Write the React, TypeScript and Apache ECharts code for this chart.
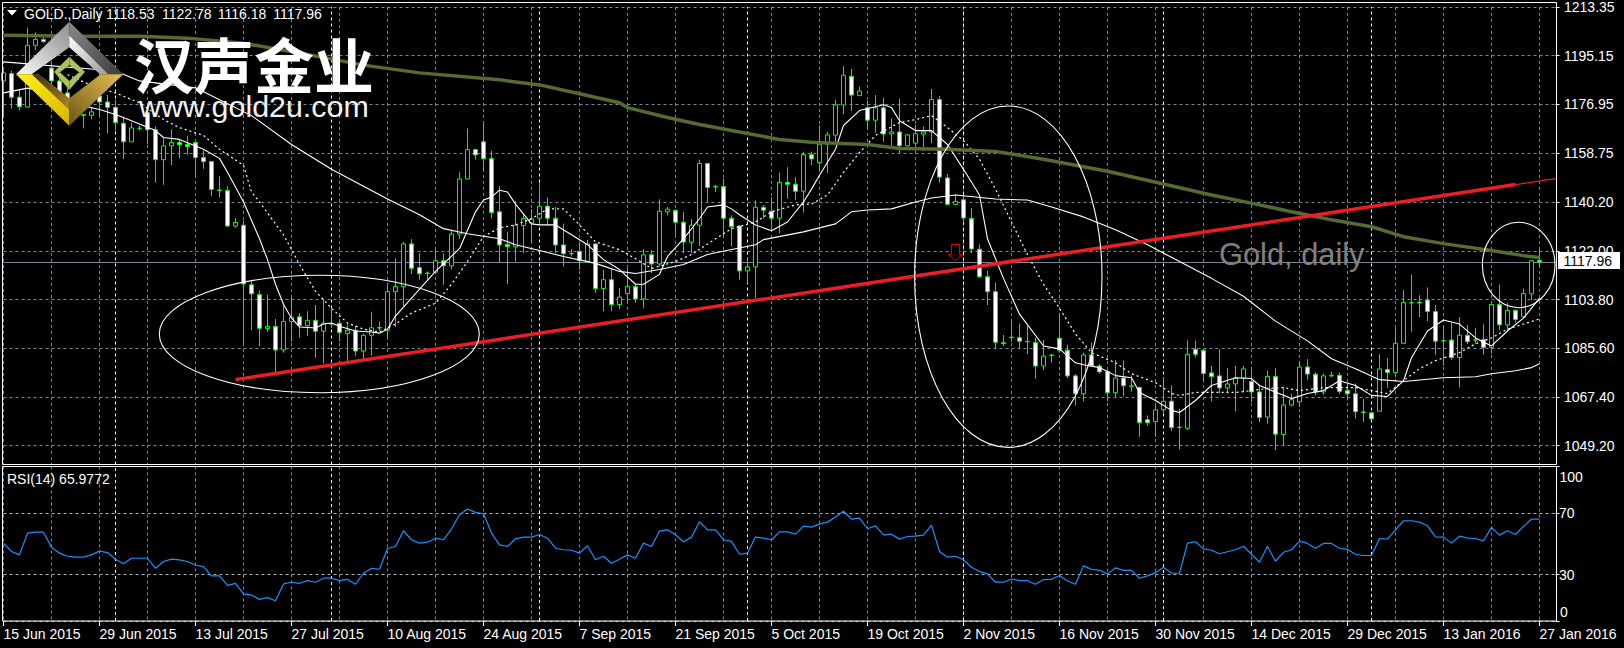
import React, { useEffect, useRef } from "react";
import * as echarts from "echarts";

const FONT = "'Liberation Sans', Arial, sans-serif";

// [open, close, high, low] per daily bar, index 0 = 15 Jun 2015
const goldDaily: number[][] = [
  [1185.7,1188.7,1189.8,1172.7],[1188.4,1179.6,1189.4,1175.3],[1179.6,1176.0,1182.4,1174.6],[1175.9,1199.0,1205.4,1175.7],[1199.0,1201.2,1203.9,1197.2],
  [1201.2,1200.4,1203.2,1199.8],[1190.5,1185.7,1193.1,1183.5],[1185.7,1181.2,1187.9,1179.4],[1181.2,1178.3,1183.1,1176.8],[1178.3,1174.6,1180.5,1172.7],
  [1172.7,1173.1,1173.2,1167.9],[1172.8,1174.1,1175.7,1171.3],[1180.0,1177.8,1182.4,1172.7],[1177.8,1175.8,1180.5,1166.1],[1175.8,1170.1,1178.6,1166.8],
  [1169.8,1162.9,1172.3,1156.5],[1162.9,1168.1,1170.1,1162.9],[1167.9,1168.0,1169.0,1167.1],[1173.8,1167.4,1174.9,1162.0],[1167.4,1156.2,1168.6,1147.6],
  [1156.2,1161.4,1164.5,1146.8],[1161.4,1162.6,1167.6,1154.2],[1162.6,1161.8,1163.9,1156.7],[1161.9,1161.1,1165.2,1158.0],[1162.6,1157.0,1162.7,1150.5],
  [1157.0,1155.5,1159.7,1152.8],[1155.5,1145.1,1155.6,1142.6],[1144.9,1144.7,1150.0,1142.1],[1144.7,1131.4,1146.3,1131.0],[1131.4,1132.7,1134.4,1130.8],
  [1131.7,1109.7,1133.4,1087.2],[1109.4,1106.0,1110.9,1092.4],[1105.7,1093.1,1107.3,1086.4],[1093.0,1093.8,1105.7,1091.8],[1093.8,1085.0,1096.6,1076.6],
  [1085.0,1095.7,1101.8,1084.0],[1095.7,1097.2,1105.0,1088.1],[1097.4,1094.2,1098.8,1089.6],[1094.1,1096.1,1099.5,1090.2],[1096.1,1092.0,1101.8,1082.2],
  [1092.0,1095.0,1103.7,1080.0],[1094.7,1094.9,1100.1,1093.3],[1095.0,1091.6,1096.1,1088.1],[1091.2,1092.4,1094.6,1080.7],[1092.4,1084.6,1094.0,1082.8],
  [1084.6,1090.5,1091.1,1081.6],[1090.5,1093.3,1099.3,1082.8],[1093.2,1093.4,1095.6,1092.1],[1092.4,1106.8,1109.2,1089.6],[1106.8,1108.7,1119.3,1093.6],
  [1108.7,1124.7,1125.5,1101.4],[1124.7,1115.6,1126.5,1113.4],[1115.8,1113.5,1121.2,1111.3],[1113.6,1113.8,1114.4,1111.3],[1114.1,1118.4,1122.4,1113.8],
  [1118.4,1116.5,1121.1,1109.4],[1116.5,1128.4,1129.5,1115.1],[1128.4,1149.0,1151.5,1126.5],[1149.0,1160.0,1167.9,1148.8],[1160.0,1158.0,1160.2,1156.2],
  [1162.9,1156.6,1169.8,1151.8],[1156.6,1136.4,1159.6,1134.2],[1136.7,1124.3,1146.3,1117.7],[1124.5,1123.7,1129.2,1109.7],[1123.6,1131.7,1140.7,1118.1],
  [1131.6,1134.2,1135.7,1121.3],[1132.5,1134.0,1137.7,1125.3],[1134.3,1138.8,1147.8,1131.7],[1138.8,1134.3,1142.1,1131.7],[1134.3,1124.3,1138.5,1121.2],
  [1124.3,1121.0,1132.3,1116.2],[1121.0,1121.1,1122.8,1120.0],[1121.9,1118.4,1124.9,1115.0],[1118.2,1124.7,1126.2,1117.8],[1124.7,1108.0,1124.8,1106.3],
  [1108.0,1111.3,1115.0,1099.5],[1111.3,1102.0,1115.6,1099.5],[1102.0,1104.8,1108.2,1100.3],[1106.1,1108.7,1115.6,1102.6],[1108.7,1104.1,1110.0,1102.6],
  [1104.1,1120.6,1122.8,1100.8],[1120.6,1117.2,1122.4,1113.8],[1117.2,1136.9,1141.4,1116.2],[1136.7,1137.7,1138.5,1135.4],[1137.2,1132.8,1137.7,1128.2],
  [1132.8,1125.4,1136.7,1121.2],[1125.3,1131.7,1134.0,1121.2],[1131.7,1154.8,1156.2,1124.0],[1154.8,1145.8,1154.8,1140.4],[1146.0,1146.2,1146.8,1144.1],
  [1146.2,1134.3,1149.0,1127.4],[1134.3,1131.2,1135.4,1123.7],[1131.4,1114.6,1131.7,1111.3],[1114.6,1116.1,1119.3,1110.0],[1116.1,1138.4,1141.0,1104.5],
  [1138.4,1137.3,1139.2,1134.2],[1136.9,1134.3,1142.2,1129.2],[1134.3,1147.7,1151.3,1128.6],[1147.7,1147.0,1153.4,1141.6],[1147.0,1144.4,1149.7,1141.1],
  [1144.4,1158.1,1159.2,1136.4],[1158.1,1156.5,1159.2,1154.2],[1155.1,1162.0,1169.1,1152.7],[1162.0,1165.5,1166.6,1151.3],[1165.4,1176.7,1178.5,1161.7],
  [1176.7,1187.8,1191.2,1173.2],[1187.4,1180.4,1190.2,1174.4],[1180.2,1181.9,1183.5,1180.0],[1175.6,1171.0,1178.3,1168.2],[1171.0,1175.6,1180.4,1166.4],
  [1175.6,1165.8,1179.4,1162.9],[1165.9,1166.6,1171.6,1161.4],[1166.6,1161.4,1179.0,1158.5],[1161.4,1165.5,1165.8,1161.2],[1162.4,1165.9,1169.2,1159.6],
  [1165.8,1166.6,1168.6,1159.6],[1166.6,1178.7,1182.7,1162.4],[1178.7,1149.7,1180.0,1147.6],[1149.4,1139.5,1150.9,1139.4],[1139.5,1140.6,1143.1,1139.4],
  [1141.2,1134.4,1142.9,1132.7],[1134.2,1122.8,1138.2,1121.2],[1122.7,1112.4,1124.5,1111.9],[1112.4,1106.8,1114.6,1101.8],[1106.8,1087.9,1110.2,1085.3],
  [1087.7,1087.4,1090.6,1086.5],[1089.6,1089.8,1095.8,1088.1],[1089.6,1088.3,1094.8,1085.3],[1088.1,1088.2,1094.0,1083.4],[1087.8,1079.0,1089.6,1074.2],
  [1079.0,1082.7,1088.7,1077.5],[1082.9,1083.1,1083.4,1080.3],[1089.4,1084.9,1098.0,1084.0],[1084.9,1075.3,1086.9,1074.5],[1075.3,1068.6,1076.0,1064.2],
  [1068.6,1083.1,1084.0,1065.8],[1083.1,1079.1,1087.8,1078.7],[1079.0,1076.8,1079.7,1076.2],[1076.9,1069.0,1077.5,1065.8],[1069.0,1074.5,1081.2,1067.1],
  [1074.5,1071.6,1081.0,1067.6],[1071.4,1071.5,1075.4,1069.4],[1071.0,1057.8,1071.3,1052.5],[1058.9,1057.8,1060.5,1056.6],[1058.2,1062.6,1064.2,1052.5],
  [1062.6,1065.8,1074.7,1061.2],[1065.8,1056.0,1071.7,1054.7],[1056.0,1056.1,1063.0,1047.8],[1055.7,1083.4,1088.6,1055.0],[1085.3,1083.4,1088.4,1082.2],
  [1084.9,1076.2,1085.0,1072.9],[1076.4,1075.1,1079.1,1065.8],[1075.3,1070.8,1085.3,1068.8],[1070.8,1072.3,1078.2,1068.8],[1072.3,1074.5,1079.1,1062.1],
  [1074.5,1077.9,1079.1,1069.2],[1073.2,1069.3,1078.5,1065.5],[1069.3,1059.7,1072.0,1058.0],[1059.9,1075.1,1077.2,1057.4],[1075.1,1053.5,1078.2,1047.5],
  [1053.4,1064.4,1071.3,1049.0],[1064.4,1066.4,1068.6,1063.9],[1065.6,1078.6,1080.3,1063.6],[1078.6,1076.0,1081.6,1073.9],[1075.9,1069.3,1076.6,1068.0],
  [1069.3,1075.3,1076.2,1068.3],[1075.3,1075.5,1076.9,1074.8],[1075.5,1069.5,1076.6,1068.6],[1069.8,1068.6,1072.5,1066.1],[1068.6,1061.9,1072.5,1059.3],
  [1061.8,1061.6,1066.7,1058.0],[1061.5,1059.2,1061.6,1058.9],[1062.1,1077.9,1083.4,1062.1],[1077.7,1076.6,1082.0,1070.8],[1076.6,1087.5,1093.3,1074.8],
  [1087.5,1102.8,1107.4,1087.2],[1102.6,1102.7,1113.2,1091.8],[1102.9,1102.6,1105.5,1097.3],[1103.7,1099.4,1108.4,1095.8],[1099.4,1088.3,1101.8,1083.2],
  [1088.4,1088.5,1093.6,1079.1],[1088.7,1082.2,1095.2,1081.2],[1082.2,1090.5,1097.3,1071.0],[1090.5,1088.1,1094.3,1087.2],[1088.7,1088.8,1093.3,1087.4],
  [1088.9,1085.9,1094.6,1083.2],[1085.9,1102.0,1102.2,1083.7],[1102.0,1094.4,1109.4,1092.4],[1094.4,1099.8,1102.6,1092.5],[1099.8,1096.4,1100.3,1095.2],
  [1097.4,1106.1,1108.0,1097.0],[1106.0,1118.4,1118.7,1103.7],[1118.53,1117.96,1122.78,1116.18],
];

const fastMa: number[][] = [
  [0,1181.2],[3,1183.0],[6,1181.0],[9,1177.0],[12,1175.0],[14,1173.1],[16,1170.8],[19,1167.1],[20,1164.5],[22,1163.8],[25,1160.1],[27,1156.7],[28,1151.5],[29,1146.0],[30,1140.4],
  [32,1126.6],[33,1118.8],[34,1109.6],[35,1102.1],[36,1096.9],[37,1093.6],[39,1093.2],[40,1094.7],[41,1095.1],[42,1093.9],[44,1092.1],[46,1091.7],[47,1091.3],[48,1092.8],[49,1097.7],
  [51,1104.4],[54,1114.4],[57,1122.9],[59,1136.7],[60,1141.1],[61,1142.2],[62,1144.8],[63,1144.1],[64,1139.6],[66,1132.2],[67,1131.8],[69,1131.8],[71,1128.1],[73,1124.4],[75,1118.8],
  [77,1115.1],[79,1109.6],[80,1109.6],[82,1113.3],[83,1120.0],[85,1126.6],[87,1134.1],[88,1138.5],[90,1139.3],[91,1137.8],[92,1135.6],[94,1131.8],[96,1129.6],[98,1132.9],[100,1140.4],
  [101,1145.2],[102,1150.4],[104,1160.1],[105,1169.0],[107,1174.6],[110,1176.8],[111,1175.7],[112,1170.8],[114,1167.1],[116,1167.1],[118,1161.9],[120,1152.6],[122,1143.0],[123,1126.6],
  [125,1111.8],[127,1098.4],[130,1086.5],[132,1085.4],[134,1080.2],[135,1079.5],[137,1078.4],[139,1075.4],[141,1074.6],[142,1069.1],[144,1066.1],[146,1062.4],[147,1061.6],[149,1066.1],
  [151,1071.7],[154,1074.6],[156,1074.3],[157,1071.7],[161,1066.8],[163,1068.7],[165,1069.8],[167,1073.5],[169,1071.7],[171,1068.0],[173,1067.6],[175,1073.5],[176,1082.1],[178,1092.1],
  [180,1096.2],[182,1094.7],[184,1089.5],[186,1086.5],[188,1092.1],[190,1096.9],[192,1104.4],
];

const slowMa: number[][] = [
  [8,1188.0],[11,1184.0],[14,1181.2],[17,1177.5],[20,1171.2],[22,1168.2],[25,1165.3],[27,1160.1],[30,1154.1],[31,1144.1],[32,1140.4],[35,1128.1],[37,1117.0],[39,1107.0],[41,1100.6],
  [43,1095.1],[45,1092.8],[47,1091.7],[49,1094.7],[51,1098.8],[54,1102.5],[56,1109.6],[58,1118.1],[60,1127.4],[62,1130.7],[64,1131.8],[66,1134.1],[68,1137.8],[70,1137.8],[72,1131.8],
  [74,1125.5],[77,1122.5],[79,1119.2],[81,1115.5],[84,1118.1],[86,1120.7],[89,1126.6],[91,1130.4],[94,1132.9],[96,1136.7],[99,1139.3],[101,1139.6],[103,1143.0],[105,1151.5],[107,1158.9],
  [109,1165.3],[112,1170.1],[114,1171.2],[116,1172.7],[118,1168.2],[120,1163.4],[122,1156.4],[124,1145.2],[126,1132.9],[128,1120.7],[130,1109.6],[132,1100.6],[134,1091.0],[136,1084.0],
  [139,1080.2],[141,1076.1],[144,1072.8],[146,1068.7],[147,1068.0],[149,1069.1],[151,1069.1],[154,1069.1],[155,1069.4],[158,1070.6],[160,1070.9],[162,1069.8],[165,1070.9],[169,1070.9],
  [173,1068.7],[175,1073.5],[177,1078.0],[179,1081.0],[182,1084.0],[184,1087.3],[186,1089.5],[188,1092.8],[190,1094.7],[192,1096.6],
];

const midMa: number[][] = [
  [0,1192.8],[14,1189.4],[17,1185.7],[24,1183.1],[31,1172.7],[36,1161.9],[41,1152.6],[48,1141.5],[52,1135.6],[55,1130.4],[58,1128.5],[62,1126.6],[64,1124.4],[67,1122.2],[70,1120.0],
  [74,1117.4],[77,1114.4],[79,1113.6],[82,1115.1],[85,1117.0],[88,1120.7],[91,1122.6],[94,1124.4],[95,1126.3],[100,1129.2],[104,1132.2],[106,1136.7],[108,1137.4],[111,1137.8],[114,1140.4],
  [116,1141.9],[119,1143.0],[124,1141.5],[128,1141.1],[131,1138.5],[135,1134.8],[139,1130.0],[143,1124.4],[147,1118.1],[151,1111.8],[155,1105.1],[159,1095.8],[163,1088.4],[166,1081.7],
  [169,1078.0],[172,1073.9],[175,1073.2],[176,1073.5],[180,1074.6],[184,1075.0],[186,1076.1],[189,1077.2],[191,1078.4],[192,1079.8],
];

const longMa: number[][] = [
  [0,1202.8],[10,1202.4],[17,1202.4],[23,1201.7],[30,1199.8],[37,1196.1],[45,1191.6],[52,1188.7],[62,1186.1],[67,1184.2],[72,1180.9],[77,1177.5],[78,1175.7],[83,1172.0],[87,1169.4],
  [93,1166.0],[97,1163.8],[101,1162.7],[108,1161.9],[112,1160.4],[118,1160.1],[124,1159.3],[130,1156.4],[138,1151.9],[145,1147.1],[151,1143.0],[157,1139.3],[161,1136.7],[166,1133.7],
  [171,1131.1],[175,1127.4],[180,1124.8],[186,1122.2],[190,1120.3],[192,1119.6],
];

const trendThick: number[][] = [[29,1073.9],[189,1146.9]];
const trendThin: number[][] = [[189,1146.9],[194,1149.1]];

const rsiValues: number[] = [
  50.4,45.0,42.8,56.9,57.5,57.5,47.8,43.9,41.9,41.3,
  41.3,42.8,45.2,44.3,40.0,37.0,40.6,40.6,40.6,34.1,
  38.5,40.0,39.6,38.5,36.1,35.2,29.2,29.2,23.1,24.4,
  17.5,16.8,14.0,15.1,13.1,24.0,25.1,24.4,26.1,25.1,
  27.7,27.7,26.1,27.0,23.8,30.9,34.1,33.5,46.9,48.2,
  58.4,52.6,50.4,51.0,53.6,52.6,59.5,68.8,72.5,70.3,
  69.4,56.9,49.3,48.2,53.2,54.3,54.3,56.0,
  53.6,47.1,46.1,45.8,43.9,48.7,39.6,41.9,37.4,40.0,
  42.8,40.6,50.4,48.2,58.2,59.0,55.8,51.3,54.3,64.2,
  59.0,59.0,52.6,51.5,43.2,43.9,54.3,53.6,52.6,57.7,
  57.7,56.2,61.4,60.8,62.7,64.0,67.3,71.0,66.0,66.6,
  59.7,61.6,55.8,56.2,53.0,54.7,54.9,55.6,62.1,45.0,
  41.3,41.9,39.6,34.8,32.0,30.5,25.1,25.1,27.2,26.1,
  26.1,23.8,26.8,27.0,29.4,25.9,23.8,
  35.7,33.5,32.8,30.5,34.4,32.8,32.8,27.7,29.2,31.3,
  34.8,30.9,30.9,50.4,51.3,46.7,45.8,43.5,44.8,46.1,
  48.4,43.2,38.0,48.4,38.7,44.5,46.1,51.7,50.2,47.1,
  50.2,50.2,47.1,46.3,43.2,42.4,42.4,53.4,53.0,59.0,
  64.9,64.9,64.0,61.6,54.5,54.3,50.4,54.9,53.6,53.4,
  51.9,60.6,55.6,58.4,56.0,61.2,66.0,65.98,
];

const dateLabels: string[] = [
  "15 Jun 2015","29 Jun 2015","13 Jul 2015","27 Jul 2015","10 Aug 2015","24 Aug 2015","7 Sep 2015","21 Sep 2015","5 Oct 2015",
  "19 Oct 2015","2 Nov 2015","16 Nov 2015","30 Nov 2015","14 Dec 2015","29 Dec 2015","13 Jan 2016","27 Jan 2016",
];
const priceTicks: number[] = [1049.2,1067.4,1085.6,1103.8,1122.0,1140.2,1158.75,1176.95,1195.15,1213.35];
const rsiTicks: number[] = [0,30,70,100];
const rsiMidLabels: number[] = [30,70];
const ohlcTexts: string[] = ["1118.53","1122.78","1116.18","1117.96"];
const monthStarts: number[] = [14,41,67,93,120,145,171];
const lastClose = 1117.96;

const BARS_SHOWN = 195; // 193 bars plus the blank shift at the right edge
const categories: string[] = Array.from({ length: BARS_SHOWN }, (_, i) => (i % 12 === 0 && dateLabels[i / 12]) || "");

const GRID_COLOR = "#778899";
const every6 = (i: number) => i % 6 === 0;
const every12 = (i: number) => i % 12 === 0 && i <= 192;

const LG = (x: number, y: number, x2: number, y2: number, a: string, b: string) =>
  new echarts.graphic.LinearGradient(x, y, x2, y2, [{ offset: 0, color: a }, { offset: 1, color: b }]);

const poly = (points: number[][], fill: any) => ({ type: "polygon", z: 100, silent: true, shape: { points }, style: { fill } });

function logoElements(): any[] {
  return [
    poly([[16,74.3],[69.3,21.7],[69.3,47.3],[31.7,74.3]], LG(0,1,1,0,"#fbfbfb","#8d8d8d")),
    poly([[69.3,21.7],[123.3,74.3],[108.3,74.3],[69.3,47.3]], LG(0,0,1,1,"#8a8a8a","#3c3c3c")),
    poly([[69.3,35.7],[108.3,74.3],[100,74.3],[69.3,47.3]], LG(0,0,1,1,"#ffffff","#9a9a9a")),
    poly([[16,74.3],[38.3,74.3],[69.3,98.3],[69.3,125.7]], LG(0,0,1,1,"#fff21a","#d8b400")),
    poly([[31.7,74.3],[38.3,74.3],[69.3,98.3],[69.3,110]], LG(0,0,1,1,"#3a2a10","#b08a20")),
    poly([[123.3,74.3],[100.7,74.3],[69.3,98.3],[69.3,125.7]], LG(1,0,0,1,"#e6c24f","#6e5518")),
    poly([[69.3,56.7],[85,71.7],[79,72.3],[69.3,65]], "#a9c25a"),
    poly([[69.3,56.7],[54,71.7],[60,72.3],[69.3,65]], "#a9c25a"),
    poly([[85,71.7],[69.3,90],[69.3,81],[79,72.3]], "#a9c25a"),
    poly([[54,71.7],[69.3,90],[69.3,81],[60,72.3]], "#a9c25a"),
  ];
}

const txt = (text: string, x: number, y: number, font: string, fill: string, extra: any = {}) => ({
  type: "text", z: 90, silent: true, x, y,
  style: { text, font, fill, textVerticalAlign: "middle", verticalAlign: "middle", ...extra },
});

const ell = (cx: number, cy: number, rx: number, ry: number) => ({
  type: "ellipse", z: 60, silent: true, shape: { cx, cy, rx, ry },
  style: { fill: "transparent", stroke: "#ffffff", lineWidth: 1.1 },
});

const borderRect = (x: number, y: number, width: number, height: number) => ({
  type: "rect", z: 50, silent: true, shape: { x, y, width, height },
  style: { fill: "transparent", stroke: "#ffffff", lineWidth: 1 },
});

const ma = (name: string, data: number[][], lineStyle: any, z = 5) => ({
  name, type: "line", xAxisIndex: 0, yAxisIndex: 0, data, showSymbol: false, symbol: "none", silent: true, z, lineStyle,
});

const separators = monthStarts.map((m) => ({ xAxis: m, lineStyle: { color: "#ffffff", type: [3, 3], width: 1 } }));

export default function App() {
  const ref = useRef<HTMLDivElement | null>(null);
  useEffect(() => {
    document.body.style.margin = "0";
    document.body.style.background = "#000";
    const chart = echarts.init(ref.current!, undefined, { renderer: "svg" });
    const valueAxisLabel = { color: "#ffffff", fontFamily: FONT, fontSize: 14, margin: 8.5, align: "left" };
    chart.setOption({
      animation: false,
      backgroundColor: "#000000",
      grid: [
        { left: 3.5, width: 1552, top: 3.5, height: 461, containLabel: false },
        { left: 3.5, width: 1552, top: 466.5, height: 154.5, containLabel: false },
      ],
      xAxis: [0, 1].map((g) => ({
        type: "category",
        gridIndex: g,
        data: categories,
        boundaryGap: false,
        axisLine: { show: false },
        axisTick: g === 1 ? { show: true, interval: every12, length: 5, lineStyle: { color: "#ffffff" } } : { show: false },
        axisLabel: g === 1
          ? { show: true, interval: every12, color: "#ffffff", fontFamily: FONT, fontSize: 14, align: "left", margin: 6, hideOverlap: false, showMinLabel: true, showMaxLabel: true }
          : { show: false },
        splitLine: { show: true, interval: every6, lineStyle: { color: GRID_COLOR, type: [3, 3], width: 1 } },
      })),
      yAxis: [
        {
          type: "value", gridIndex: 0, position: "right", min: 1042.14, max: 1213.37, scale: true,
          axisLine: { show: false },
          axisTick: { show: true, length: 4, lineStyle: { color: "#ffffff" }, customValues: priceTicks },
          axisLabel: { ...valueAxisLabel, customValues: priceTicks, formatter: (v: number) => v.toFixed(2) },
          splitLine: { show: true, lineStyle: { color: GRID_COLOR, type: [3, 3], width: 1 } },
        },
        {
          type: "value", gridIndex: 1, position: "right", min: 0, max: 100,
          axisLine: { show: false },
          axisTick: { show: true, length: 4, lineStyle: { color: "#ffffff" }, customValues: rsiTicks },
          axisLabel: { ...valueAxisLabel, customValues: rsiMidLabels, margin: 3.5 },
          splitLine: { show: true, lineStyle: { color: "#a6b0bd", type: [3, 3], width: 1 } },
        },
      ],
      series: [
        {
          name: "GOLD", type: "candlestick", xAxisIndex: 0, yAxisIndex: 0, z: 3, silent: true,
          data: goldDaily.map((r) => [r[0], r[1], r[3], r[2]]),
          barWidth: 4,
          itemStyle: { color: "#000000", color0: "#ffffff", borderColor: "#00ff00", borderColor0: "#00ff00", borderWidth: 1 },
          markLine: {
            silent: true, symbol: ["none", "none"], label: { show: false }, animation: false, z: 2,
            data: [{ yAxis: lastClose, lineStyle: { color: GRID_COLOR, type: "solid", width: 1 } }, ...separators],
          },
        },
        ma("MA fast", fastMa, { color: "#ffffff", width: 1.1 }),
        ma("MA slow", slowMa, { color: "#ffffff", width: 1.2, type: [2, 3] }),
        ma("MA mid", midMa, { color: "#ffffff", width: 1.1 }),
        ma("MA 200", longMa, { color: "#556b2f", width: 3.5 }, 6),
        ma("Trend", trendThick, { color: "#ee1c25", width: 3.5 }, 7),
        ma("Trend ext", trendThin, { color: "#ee1c25", width: 1.2 }, 7),
        {
          name: "RSI(14)", type: "line", xAxisIndex: 1, yAxisIndex: 1, data: rsiValues, showSymbol: false, symbol: "none", silent: true, z: 5,
          lineStyle: { color: "#1e90ff", width: 1.2 },
          markLine: { silent: true, symbol: ["none", "none"], label: { show: false }, animation: false, data: separators },
        },
      ],
      graphic: {
        elements: [
          borderRect(2.5, 2.5, 1554, 462),
          borderRect(2.5, 466.5, 1554, 154.5),
          ell(319.3, 334, 160, 58.7),
          ell(1008.3, 276.7, 93.7, 170.7),
          ell(1518.7, 265, 36.3, 42.7),
          { type: "polygon", z: 60, silent: true, shape: { points: [[951.5,244.5],[959.5,244.5],[959.5,254.5],[962.5,254.5],[955.5,260.5],[948.5,254.5],[951.5,254.5]] }, style: { fill: "#000", stroke: "#e00000", lineWidth: 1 } },
          { type: "polygon", z: 90, silent: true, shape: { points: [[7,10],[17,10],[12,15.5]] }, style: { fill: "#ffffff" } },
          txt("GOLD.,Daily", 24, 14, `14px ${FONT}`, "#ffffff"),
          txt(ohlcTexts[0], 106, 14, `14px ${FONT}`, "#ffffff"),
          txt(ohlcTexts[1], 162, 14, `14px ${FONT}`, "#ffffff"),
          txt(ohlcTexts[2], 217.7, 14, `14px ${FONT}`, "#ffffff"),
          txt(ohlcTexts[3], 273.3, 14, `14px ${FONT}`, "#ffffff"),
          txt("RSI(14) 65.9772", 7, 479, `14px ${FONT}`, "#ffffff"),
          txt("Gold, daily", 1219, 254, `30.8px ${FONT}`, "#808080"),
          txt("100", 1559.5, 477, `14px ${FONT}`, "#ffffff"),
          txt("0", 1560, 612, `14px ${FONT}`, "#ffffff"),
          { type: "rect", z: 80, silent: true, shape: { x: 1558, y: 252, width: 62, height: 17 }, style: { fill: "#ffffff" } },
          txt("1117.96", 1563.5, 260.5, `14px ${FONT}`, "#000000"),
          ...logoElements(),
          txt("汉声金业", 134, 62, `bold 60px 'Noto Sans CJK SC', sans-serif`, "#ffffff"),
          txt("www.gold2u.com", 139, 106, `30.4px ${FONT}`, "#f2f2f2"),
        ],
      },
    });
    return () => chart.dispose();
  }, []);
  return <div ref={ref} style={{ width: 1624, height: 648, display: "block" }} />;
}
